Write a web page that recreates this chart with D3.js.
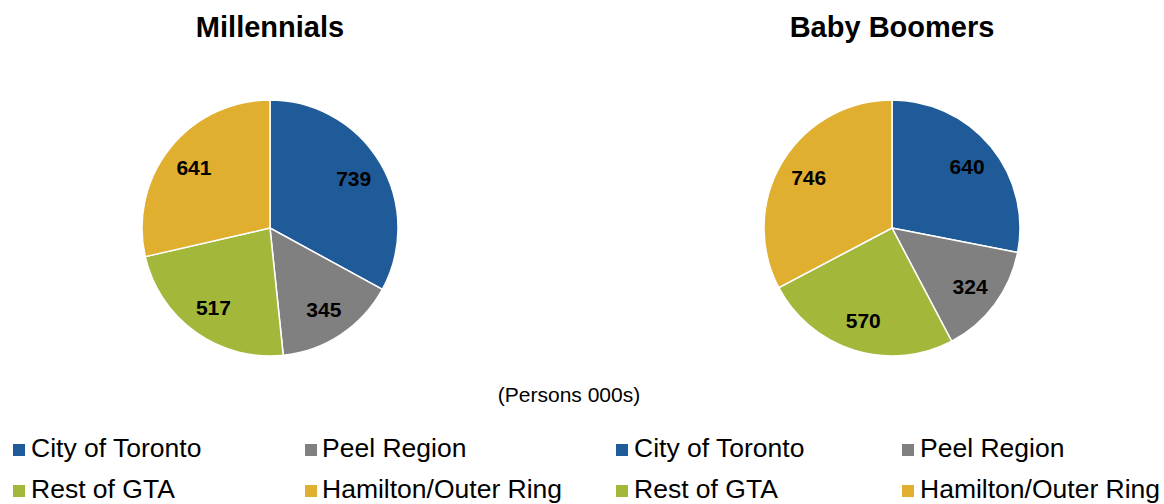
<!DOCTYPE html>
<html>
<head>
<meta charset="utf-8">
<script src="https://cdn.jsdelivr.net/npm/d3@7"></script>
<style>
  html, body { margin: 0; padding: 0; background: #fff; }
  svg { display: block; font-family: "Liberation Sans", Arial, sans-serif; }
</style>
</head>
<body>
<svg id="chart" width="1164" height="504"></svg>
<script>
const categories = ["City of Toronto", "Peel Region", "Rest of GTA", "Hamilton/Outer Ring"];
const millennials = [739, 345, 517, 641];
const babyBoomers = [640, 324, 570, 746];
const chartTitles = ["Millennials", "Baby Boomers"];
const unitsLabel = "(Persons 000s)";
const colors = ["#1F5B98", "#808080", "#A3B73B", "#E0AF2F"];

const svg = d3.select("#chart");
const color = d3.scaleOrdinal().domain(categories).range(colors);

const radius = 128;
const pies = [
  { title: chartTitles[0], values: millennials, cx: 270, cy: 228 },
  { title: chartTitles[1], values: babyBoomers, cx: 892, cy: 228 }
];

const pie = d3.pie().sort(null).value(d => d.value);
const arc = d3.arc().innerRadius(0).outerRadius(radius);
const labelArc = d3.arc().innerRadius(radius * 0.76).outerRadius(radius * 0.76);

pies.forEach(p => {
  const data = categories.map((c, i) => ({ cat: c, value: p.values[i] }));
  const g = svg.append("g").attr("transform", `translate(${p.cx},${p.cy})`);
  const arcs = pie(data);
  g.selectAll("path").data(arcs).join("path")
    .attr("d", arc)
    .attr("fill", d => color(d.data.cat))
    .attr("stroke", "#fff")
    .attr("stroke-width", 1.5);
  g.selectAll("text").data(arcs).join("text")
    .attr("transform", d => `translate(${labelArc.centroid(d)})`)
    .attr("text-anchor", "middle")
    .attr("dy", "0.36em")
    .attr("font-size", 21)
    .attr("font-weight", "bold")
    .attr("fill", "#000")
    .text(d => d.data.value);
  svg.append("text")
    .attr("x", p.cx).attr("y", 37)
    .attr("text-anchor", "middle")
    .attr("font-size", 29)
    .attr("font-weight", "bold")
    .text(p.title);
});

svg.append("text")
  .attr("x", 569).attr("y", 402)
  .attr("text-anchor", "middle")
  .attr("font-size", 21)
  .text(unitsLabel);

const legends = [
  { sq: [13, 305], tx: [31, 322] },
  { sq: [616, 902], tx: [634, 920] }
];
legends.forEach(L => {
  categories.forEach((c, i) => {
    const col = i % 2, row = Math.floor(i / 2);
    const y = 444 + row * 41;
    svg.append("rect").attr("x", L.sq[col]).attr("y", y).attr("width", 12).attr("height", 12)
      .attr("fill", color(c));
    svg.append("text").attr("x", L.tx[col]).attr("y", y + 13)
      .attr("font-size", 26.5)
      .attr("fill", "#000")
      .text(c);
  });
});
</script>
</body>
</html>
